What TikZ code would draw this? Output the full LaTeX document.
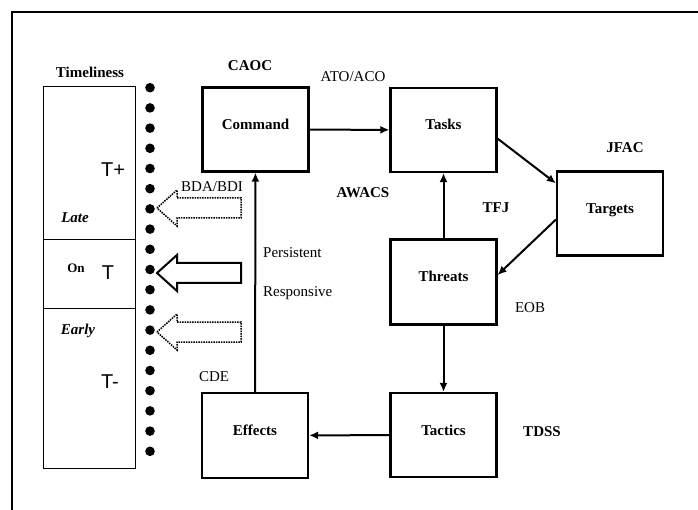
\documentclass[tikz,border=0pt]{standalone}
\usepackage{fontspec}
\setmainfont{Liberation Serif}
\newfontfamily\arialfont{Liberation Sans}
\usepackage{tikz}
\usetikzlibrary{arrows.meta, positioning, calc}

\tikzset{
  stage/.style={draw, line width=2.2pt, minimum width=106pt, minimum height=84pt,
    inner sep=0pt, text height=10pt, text depth=10pt, font=\fontsize{15}{17}\selectfont\bfseries},
  tag/.style={font=\fontsize{15}{17}\selectfont\bfseries, inner sep=0pt},
  note/.style={font=\fontsize{15}{17}\selectfont, inner sep=0pt},
  tmark/.style={font=\arialfont\fontsize{20}{22}\selectfont, inner sep=0pt},
  conn/.style={-{Latex[length=9pt,width=8pt]}, line width=2pt},
}

\begin{document}
\begin{tikzpicture}[x=1pt, y=-1pt]
\useasboundingbox (0,0) rectangle (698,510);

% outer frame (cut off at right and bottom)
\draw[line width=2.5pt] (12,512) -- (12,12) -- (700,12);

% Timeliness column
\draw[line width=1pt] (43,87) rectangle (135,468);
\draw[line width=1pt] (43,240) -- (135,240);
\draw[line width=1pt] (43,309) -- (135,309);
\node[tag] (timeliness) at (90,72) {Timeliness};
\node[tmark] (tplus) at (113,170) {T+};
\node[tag, font=\fontsize{15}{17}\selectfont\bfseries\itshape] (late) at (75,218) {Late};
\node[tag, font=\fontsize{13}{15}\selectfont\bfseries] (on) at (76,268) {On};
\node[tmark] (ton) at (108,273) {T};
\node[tag, font=\fontsize{15}{17}\selectfont\bfseries\itshape] (early) at (78,331) {Early};
\node[tmark] (tminus) at (110,382) {T-};

% dotted time line
\foreach \i in {0,...,18}
  \fill (150,87.7+20.2*\i) circle (4.8pt);

% block arrows into the time line
\foreach \y/\sty/\lw in {208/densely dotted/1.5pt, 273/solid/2pt, 332/densely dotted/1.5pt}
  \draw[\sty, line width=\lw] (157,\y) -- (177,\y-18) -- (177,\y-10) -- (241,\y-10)
    -- (241,\y+10) -- (177,\y+10) -- (177,\y+18) -- cycle;
\node[note] (bda) at (212,187) {BDA/BDI};

% cycle
\node[stage] (command) at (255.5,129.5) {Command};
\node[stage] (tasks) at (443.5,130) {Tasks};
\node[stage] (targets) at (610,213.5) {Targets};
\node[stage, minimum height=85pt] (threats) at (443.5,282) {Threats};
\node[stage] (tactics) at (443.5,435) {Tactics};
\node[stage, minimum height=85pt] (effects) at (255,435.5) {Effects};

\node[tag] (caoc) at (250,66) {CAOC};
\node[note] (atoaco) at (353,77) {ATO/ACO};
\node[tag] (awacs) at (363,193) {AWACS};
\node[tag] (tfj) at (496,208) {TFJ};
\node[tag] (jfac) at (625,148) {JFAC};
\node[note] (eob) at (530,308) {EOB};
\node[tag] (tdss) at (542,432) {TDSS};
\node[note] (cde) at (214,377) {CDE};
\node[note, anchor=west] (persistent) at (263,253) {Persistent};
\node[note, anchor=west] (responsive) at (263,293) {Responsive};

\draw[conn] (command) -- (tasks);
\draw[conn] ($(tasks.north east)!0.6!(tasks.south east)$) -- ($(targets.north west)!0.15!(targets.south west)$);
\draw[conn] ($(targets.north west)!0.57!(targets.south west)$) -- ($(threats.north east)!0.42!(threats.south east)$);
\draw[conn] (threats) -- (tasks);
\draw[conn] (threats) -- (tactics);
\draw[conn] (tactics) -- (effects);
\draw[conn] (effects) -- (command);

\end{tikzpicture}
\end{document}
